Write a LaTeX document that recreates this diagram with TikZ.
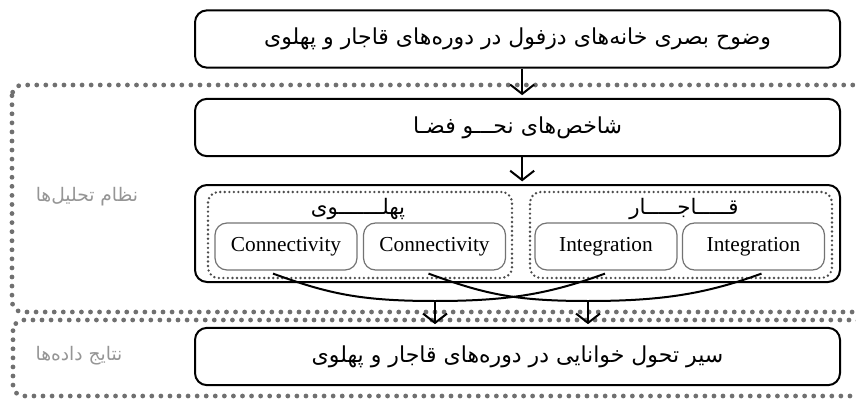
\documentclass[tikz,border=0pt]{standalone}
\usepackage{fontspec}
\setmainfont{Liberation Serif}
\newfontfamily\fafont[Script=Arabic]{DejaVu Sans}
\TeXXeTstate=1
\usetikzlibrary{arrows.meta}
\newcommand{\fa}[1]{{\fafont\beginR #1\endR}}
\definecolor{dotgray}{HTML}{707070}
\definecolor{txtgray}{HTML}{959595}
\tikzset{
  mainbox/.style={draw, line width=1.5pt, rounded corners=9pt,
    minimum width=483.75pt, minimum height=43pt,
    font=\fontsize{16.5}{18}\selectfont},
  groupbox/.style={draw, line width=1.5pt, rounded corners=9pt,
    minimum width=483.75pt, minimum height=72.75pt},
  periodbox/.style={draw=black!70, line width=2pt, dash pattern=on 0pt off 3.4pt,
    line cap=round, rounded corners=8pt, minimum height=64.5pt},
  measure/.style={draw=black!55, line width=0.9pt, rounded corners=9pt,
    minimum width=106.5pt, minimum height=35.25pt,
    font=\fontsize{16}{18}\selectfont},
  grouplabel/.style={font=\fontsize{16}{18}\selectfont},
  sidelabel/.style={text=txtgray, font=\fontsize{14}{16}\selectfont},
  zone/.style={draw=dotgray, line width=3.6pt, dash pattern=on 0pt off 6.8pt,
    line cap=round, rounded corners=8pt},
  arr/.style={line width=1.5pt, -{Straight Barb[length=7pt,width=18pt]},
    shorten >=2pt},
  link/.style={line width=1.5pt}
}
\begin{document}
\begin{tikzpicture}[x=0.75pt,y=-0.75pt]
    \useasboundingbox (0,0) rectangle (856,399);
    %% zones
    \draw[zone] (12,85) rectangle (866,312);
    \draw[zone] (13,320) rectangle (866,396);
    \node[sidelabel] (zana) at (87,197) {\fa{نظام تحلیل‌ها}};
    \node[sidelabel] (zres) at (79,356) {\fa{نتایج داده‌ها}};
    %% main boxes
    \node[mainbox] (vis) at (517.5,39) {\fa{وضوح بصری خانه‌های دزفول در دوره‌های قاجار و پهلوی}};
    \node[mainbox] (ind) at (517.5,127.5) {\fa{شاخص‌های نحـــو فضـا}};
    \node[groupbox] (grp) at (517.5,233.5) {};
    \node[mainbox] (res) at (517.5,356.5) {\fa{سیر تحول خوانایی در دوره‌های قاجار و پهلوی}};
    %% periods
    \node[periodbox, minimum width=228pt] (pah) at (360,235) {};
    \node[periodbox, minimum width=226.5pt] (qaj) at (681,235) {};
    \node[grouplabel] (lpah) at (358,209) {\fa{پهلـــــــوی}};
    \node[grouplabel] (lqaj) at (684,209) {\fa{قـــــاجـــــار}};
    \node[measure] (c1) at (286,246.5) {Connectivity};
    \node[measure] (c2) at (434.5,246.5) {Connectivity};
    \node[measure] (i1) at (606,246.5) {Integration};
    \node[measure] (i2) at (753.5,246.5) {Integration};
    %% arrows
    \draw[arr] ([xshift=3.5pt]vis.south) -- ([xshift=3.5pt]ind.north);
    \draw[arr] ([xshift=3.5pt]ind.south) -- ([xshift=3.5pt]grp.north);
    \coordinate (j1) at (435,301);
    \coordinate (j2) at (588,301);
    \draw[link] ([shift={(-13,3)}]c1.south) .. controls +(55,20) and +(-75,0) .. (j1);
    \draw[link] ([shift={(-6,3)}]c2.south) .. controls +(55,20) and +(-75,0) .. (j2);
    \draw[link] ([shift={(-1,3)}]i1.south) .. controls +(-55,20) and +(75,0) .. (j1);
    \draw[link] ([shift={(8,3)}]i2.south) .. controls +(-55,20) and +(75,0) .. (j2);
    \draw[arr] (j1) -- (j1 |- res.north);
    \draw[arr] (j2) -- (j2 |- res.north);
\end{tikzpicture}
\end{document}
